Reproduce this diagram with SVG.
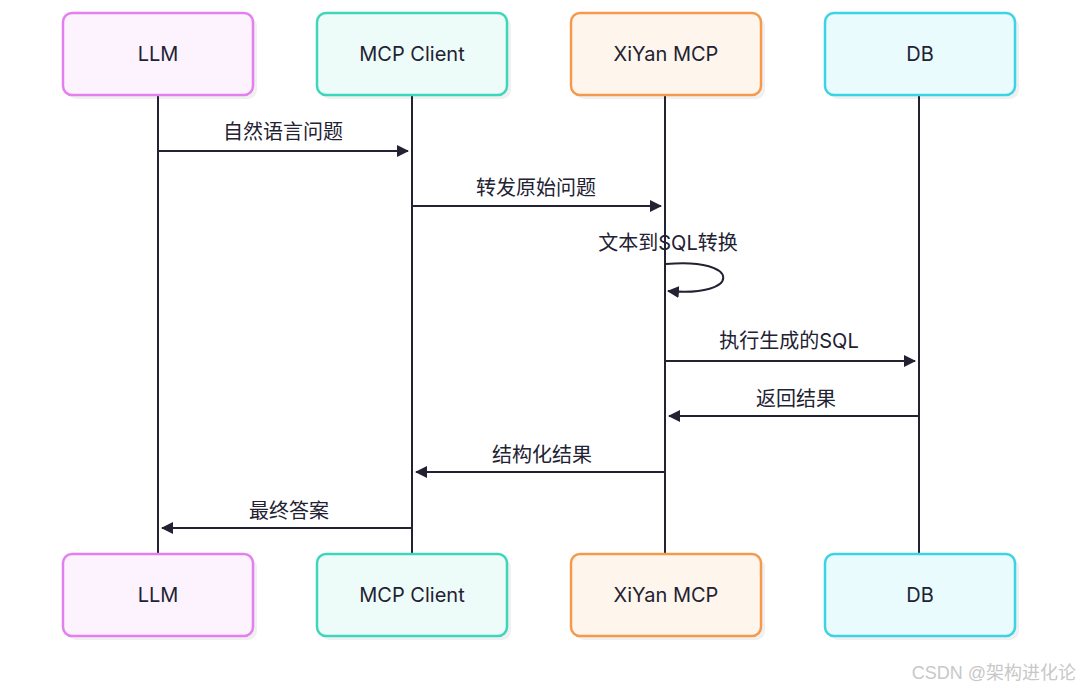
<svg xmlns="http://www.w3.org/2000/svg" width="1080" height="690" viewBox="0 0 1080 690">
<style>
.t{font-family:Inter,"Noto Sans","Noto Sans CJK SC",sans-serif;font-size:20px;fill:#222233;text-anchor:middle}
.sh{fill:#000;opacity:0.06}
.life{stroke:#222233;stroke-width:2}
.msg{stroke:#222233;stroke-width:2;fill:none}
.wm{font-family:"Liberation Sans","Noto Sans CJK SC",sans-serif;font-size:18px;fill:#c8c8c8}
</style>
<defs>
<marker id="ah" viewBox="0 0 12 12" refX="11" refY="6" markerWidth="12" markerHeight="12" markerUnits="userSpaceOnUse" orient="auto">
<path d="M0,0 L12,6 L0,12 z" fill="#222233"/>
</marker>
</defs>
<rect width="1080" height="690" fill="#fff"/>
<g id="lifelines">
<line class="life" x1="158" y1="95" x2="158" y2="554"/>
<line class="life" x1="412" y1="95" x2="412" y2="554"/>
<line class="life" x1="665" y1="95" x2="665" y2="554"/>
<line class="life" x1="919" y1="95" x2="919" y2="554"/>
</g>
<g id="node-llm-top"><rect class="sh" x="67" y="17" width="190" height="82" rx="9"/><rect x="63" y="13" width="190" height="82" rx="9" fill="#fcf3fe" stroke="#e47ff0" stroke-width="2.5"/><text class="t" x="158" y="61">LLM</text></g>
<g id="node-client-top"><rect class="sh" x="321" y="17" width="190" height="82" rx="9"/><rect x="317" y="13" width="190" height="82" rx="9" fill="#eefcf9" stroke="#3dd6bd" stroke-width="2.5"/><text class="t" x="412" y="61">MCP Client</text></g>
<g id="node-xiyan-top"><rect class="sh" x="575" y="17" width="190" height="82" rx="9"/><rect x="571" y="13" width="190" height="82" rx="9" fill="#fef6ec" stroke="#f59a4d" stroke-width="2.5"/><text class="t" x="666" y="61">XiYan MCP</text></g>
<g id="node-db-top"><rect class="sh" x="829" y="17" width="190" height="82" rx="9"/><rect x="825" y="13" width="190" height="82" rx="9" fill="#e9fbfd" stroke="#3bd3e6" stroke-width="2.5"/><text class="t" x="920" y="61">DB</text></g>
<g id="node-llm-bottom"><rect class="sh" x="67" y="558" width="190" height="82" rx="9"/><rect x="63" y="554" width="190" height="82" rx="9" fill="#fcf3fe" stroke="#e47ff0" stroke-width="2.5"/><text class="t" x="158" y="602">LLM</text></g>
<g id="node-client-bottom"><rect class="sh" x="321" y="558" width="190" height="82" rx="9"/><rect x="317" y="554" width="190" height="82" rx="9" fill="#eefcf9" stroke="#3dd6bd" stroke-width="2.5"/><text class="t" x="412" y="602">MCP Client</text></g>
<g id="node-xiyan-bottom"><rect class="sh" x="575" y="558" width="190" height="82" rx="9"/><rect x="571" y="554" width="190" height="82" rx="9" fill="#fef6ec" stroke="#f59a4d" stroke-width="2.5"/><text class="t" x="666" y="602">XiYan MCP</text></g>
<g id="node-db-bottom"><rect class="sh" x="829" y="558" width="190" height="82" rx="9"/><rect x="825" y="554" width="190" height="82" rx="9" fill="#e9fbfd" stroke="#3bd3e6" stroke-width="2.5"/><text class="t" x="920" y="602">DB</text></g>
<g id="connectors">
<line class="msg" x1="158" y1="151" x2="408" y2="151" marker-end="url(#ah)"/>
<text class="t" x="283" y="139">自然语言问题</text>
<line class="msg" x1="412" y1="206" x2="661" y2="206" marker-end="url(#ah)"/>
<text class="t" x="536" y="195">转发原始问题</text>
<path class="msg" d="M666,264 C742,257 742,298 668,291" marker-end="url(#ah)"/>
<text class="t" x="668" y="250">文本到SQL转换</text>
<line class="msg" x1="665" y1="361" x2="915" y2="361" marker-end="url(#ah)"/>
<text class="t" x="789" y="348">执行生成的SQL</text>
<line class="msg" x1="919" y1="416" x2="669" y2="416" marker-end="url(#ah)"/>
<text class="t" x="796" y="406">返回结果</text>
<line class="msg" x1="665" y1="472" x2="416" y2="472" marker-end="url(#ah)"/>
<text class="t" x="542" y="462">结构化结果</text>
<line class="msg" x1="412" y1="528" x2="162" y2="528" marker-end="url(#ah)"/>
<text class="t" x="289" y="518">最终答案</text>
</g>
<text class="wm" x="1076" y="679" text-anchor="end">CSDN @架构进化论</text>
</svg>
